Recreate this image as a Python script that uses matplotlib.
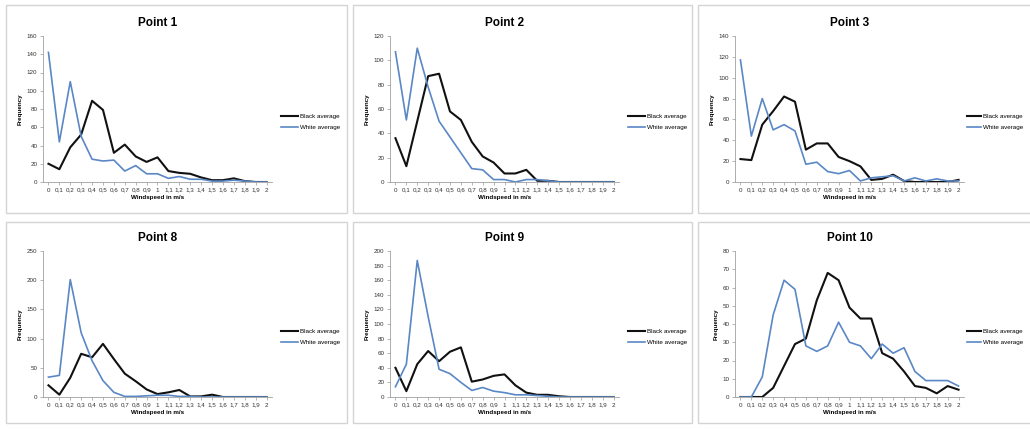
import matplotlib
matplotlib.use("Agg")
import matplotlib.pyplot as plt
from matplotlib.patches import Rectangle

speeds = ["0", "0,1", "0,2", "0,3", "0,4", "0,5", "0,6", "0,7", "0,8", "0,9", "1",
          "1,1", "1,2", "1,3", "1,4", "1,5", "1,6", "1,7", "1,8", "1,9", "2"]

titles = ["Point 1", "Point 2", "Point 3", "Point 8", "Point 9", "Point 10"]

black_p1 = [20, 14, 38, 52, 89, 79, 32, 41, 28, 22, 27, 12, 10, 9, 5, 2, 2, 4, 1, 0, 0]
white_p1 = [142, 44, 110, 50, 25, 23, 24, 12, 18, 9, 9, 4, 6, 3, 3, 1, 1, 2, 1, 0, 0]
black_p2 = [36, 13, 50, 87, 89, 58, 51, 33, 21, 16, 7, 7, 10, 1, 1, 0, 0, 0, 0, 0, 0]
white_p2 = [107, 51, 110, 78, 50, 37, 24, 11, 10, 2, 2, 0, 2, 2, 1, 0, 0, 0, 0, 0, 0]
black_p3 = [22, 21, 55, 68, 82, 77, 31, 37, 37, 24, 20, 15, 2, 3, 7, 1, 0, 0, 0, 0, 2]
white_p3 = [117, 44, 80, 50, 55, 49, 17, 19, 10, 8, 11, 1, 4, 5, 6, 1, 4, 1, 3, 1, 1]
black_p8 = [20, 4, 33, 74, 68, 91, 65, 40, 27, 13, 5, 8, 12, 1, 1, 4, 0, 0, 0, 0, 0]
white_p8 = [34, 37, 201, 110, 62, 28, 8, 1, 1, 2, 3, 3, 1, 1, 0, 0, 0, 0, 0, 0, 0]
black_p9 = [40, 8, 45, 63, 49, 62, 68, 21, 24, 29, 31, 16, 6, 3, 3, 1, 0, 0, 0, 0, 0]
white_p9 = [14, 45, 187, 110, 38, 32, 20, 9, 13, 8, 6, 3, 3, 2, 1, 0, 0, 0, 0, 0, 0]
black_p10 = [0, 0, 0, 5, 17, 29, 32, 53, 68, 64, 49, 43, 43, 24, 21, 14, 6, 5, 2, 6, 4]
white_p10 = [0, 0, 11, 45, 64, 59, 28, 25, 28, 41, 30, 28, 21, 29, 24, 27, 14, 9, 9, 9, 6]

blacks = [black_p1, black_p2, black_p3, black_p8, black_p9, black_p10]
whites = [white_p1, white_p2, white_p3, white_p8, white_p9, white_p10]
y_max = [160, 120, 140, 250, 200, 80]
y_step = [20, 20, 20, 50, 20, 10]

W, H = 1030, 429
fig = plt.figure(figsize=(W / 100, H / 100), dpi=100)
plt.rcParams['font.family'] = ['Liberation Sans', 'DejaVu Sans']

# panel boxes in pixels: left, top, right, bottom
cols = [(6, 347), (353, 692), (698, 1040)]
rows = [(5, 213), (222, 423)]

for i in range(6):
    r, c = divmod(i, 3)
    pl, pr = cols[c]
    pt, pb = rows[r]
    fig.patches.append(Rectangle((pl / W, 1 - pb / H), (pr - pl) / W, (pb - pt) / H,
                                 transform=fig.transFigure, fill=False,
                                 edgecolor="#d4d4d4", lw=1.0))
    ax_l = pl + 37
    ax_w = 229
    ax_t = pt + (31 if r == 0 else 29)
    ax_h = 146
    ax = fig.add_axes([ax_l / W, 1 - (ax_t + ax_h) / H, ax_w / W, ax_h / H])
    x = list(range(len(speeds)))
    ax.plot(x, blacks[i], color="#111111", lw=1.5, label="Black average")
    ax.plot(x, whites[i], color="#5a87c5", lw=1.2, label="White average")
    ax.set_xlim(-0.5, len(speeds) - 0.5)
    ax.set_ylim(0, y_max[i])
    ax.set_yticks(range(0, y_max[i] + 1, y_step[i]))
    ax.set_xticks(x)
    ax.set_xticklabels(speeds)
    ax.tick_params(axis="both", labelsize=4.5, length=2, width=0.5,
                   color="#999999", labelcolor="#333333", pad=2)
    for s in ["top", "right"]:
        ax.spines[s].set_visible(False)
    for s in ["left", "bottom"]:
        ax.spines[s].set_color("#a0a0a0")
        ax.spines[s].set_linewidth(0.6)
    ax.set_title(titles[i], fontsize=8.5, fontweight="bold", pad=7)
    ax.set_xlabel("Windspeed in m/s", fontsize=4.5, fontweight="bold", labelpad=2)
    ax.set_ylabel("Frequency", fontsize=4.5, fontweight="bold", labelpad=3)
    # the right column is narrower on the page, so nudge its legend left
    lx = 1.0 if c == 2 else 1.03
    ax.legend(loc="center left", bbox_to_anchor=(lx, 0.41), frameon=False,
              fontsize=4.5, handlelength=2.3 if c == 2 else 2.6,
              handletextpad=0.4, labelspacing=0.9, borderaxespad=0)

fig.savefig("out.png", dpi=100)
